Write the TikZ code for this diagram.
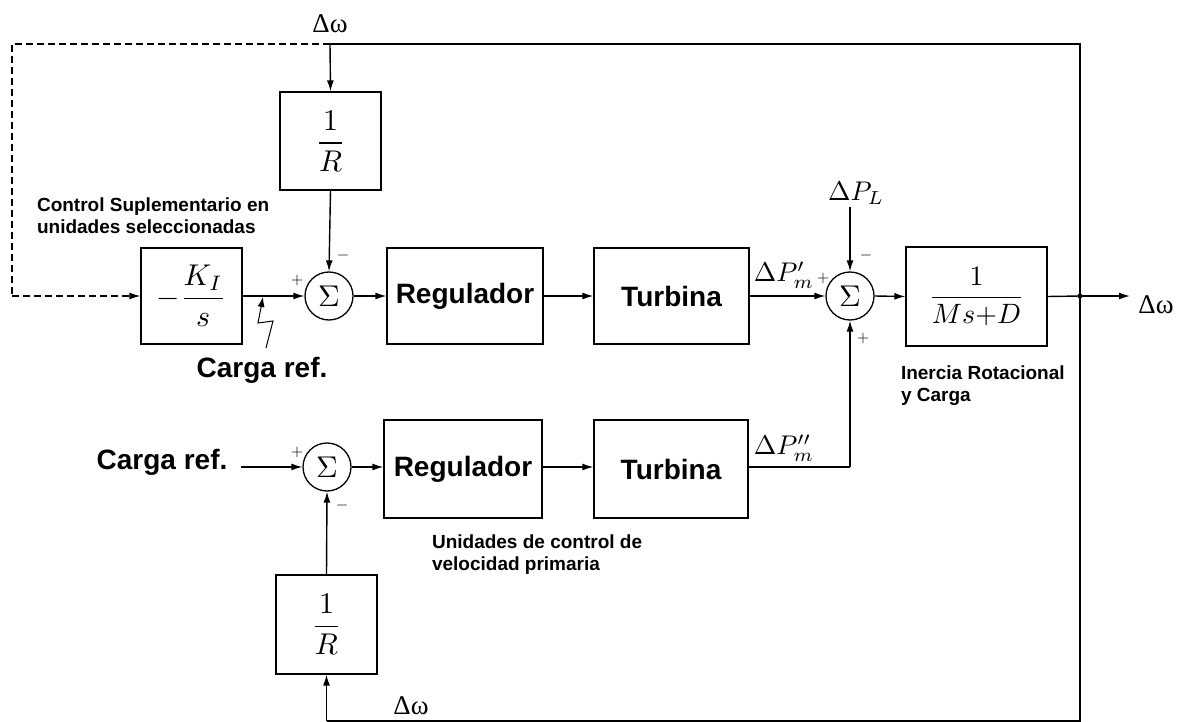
\documentclass[tikz,border=0pt]{standalone}
\usepackage{amsmath}
\usepackage{graphicx}
\usepackage{fontspec}
\setmainfont{Liberation Sans}
\newfontfamily\tms{Liberation Serif}
\usetikzlibrary{arrows.meta}
\newcommand\mscale[2]{\scalebox{#1}{\fontsize{10}{12}\selectfont #2}}
\begin{document}
\begin{tikzpicture}[x=1pt,y=-1pt,
  line width=1.4pt,
  >={Latex[length=11pt,width=7pt]},
  blk/.style={draw,line width=1.3pt,inner sep=0pt},
  sumc/.style={draw,circle,line width=1.3pt,minimum size=48pt,inner sep=0pt},
  big/.style={font=\fontsize{28}{32}\selectfont\bfseries},
  small/.style={font=\fontsize{19}{22}\selectfont\bfseries,align=left},
  sgn/.style={inner sep=0pt},
  dw/.style={font=\fontsize{27}{30}\selectfont\tms,inner sep=0pt}]
\useasboundingbox (0,0) rectangle (1183,722);

% blocks
\node[blk,minimum width=101pt,minimum height=98pt] (R1) at (330.5,141) {\mscale{3}{$\dfrac{1}{R}$}};
\node[blk,minimum width=101pt,minimum height=96pt] (KI) at (191.5,296) {\mscale{3}{$-\dfrac{K_I}{s}$}};
\node[sumc] (S1) at (329,296) {\mscale{3}{$\Sigma$}};
\node[blk,minimum width=156pt,minimum height=96pt,big] (Reg1) at (465,296) {Regulador};
\node[blk,minimum width=155pt,minimum height=96pt,big] (Tur1) at (671.5,296) {Turbina};
\node[sumc] (S2) at (850,296) {\mscale{3}{$\Sigma$}};
\node[blk,minimum width=141pt,minimum height=99pt] (G) at (976.5,296.5) {\mscale{2.8}{$\dfrac{1}{Ms{+}D}$}};
\node[sumc] (S3) at (327,467) {\mscale{3}{$\Sigma$}};
\node[blk,minimum width=158pt,minimum height=98pt,big] (Reg2) at (463,469) {Regulador};
\node[blk,minimum width=154pt,minimum height=98pt,big] (Tur2) at (671,469) {Turbina};
\node[blk,minimum width=101pt,minimum height=99pt] (R2) at (326.5,624.5) {\mscale{3}{$\dfrac{1}{R}$}};

% coordinates
\coordinate (J) at (1080,296);
\coordinate (Out) at (1130,296);
\coordinate (TR) at (1080,44);
\coordinate (TJ) at (330,44);
\coordinate (TL) at (12,44);
\coordinate (DL) at (12,296);
\coordinate (BR) at (1080,721);
\coordinate (BL) at (326.5,721);
\coordinate (PL) at (850,207);
\coordinate (T2) at (850,467);
\coordinate (CR) at (241,467);

% labels
\node[dw] (dwtop) at (330,24) {Δω};
\node[dw] (dwout) at (1156,305) {Δω};
\node[dw] (dwbot) at (411,706) {Δω};
\node[inner sep=0pt] (dPL) at (856,193) {\mscale{2.7}{$\Delta P_L$}};
\node[inner sep=0pt] (dPm1) at (784,275) {\mscale{2.7}{$\Delta P_m'$}};
\node[inner sep=0pt] (dPm2) at (784,448) {\mscale{2.7}{$\Delta P_m''$}};
\node[small,anchor=west] (cs) at (33,216) {Control Suplementario en\\unidades seleccionadas};
\node[big,anchor=west,inner sep=0pt] (cr1) at (196,370) {Carga ref.};
\node[big,anchor=west,inner sep=0pt] (cr2) at (96,462) {Carga ref.};
\node[small,anchor=west] (irc) at (897,386) {Inercia Rotacional\\y Carga};
\node[small,anchor=west] (uc) at (428,555) {Unidades de control de\\velocidad primaria};

% signs
\node[sgn] at (297,280) {\mscale{1.6}{$+$}};
\node[sgn] at (343,255) {\mscale{1.6}{$-$}};
\node[sgn] at (823,278) {\mscale{1.6}{$+$}};
\node[sgn] at (866,255) {\mscale{1.6}{$-$}};
\node[sgn] at (863,338) {\mscale{1.6}{$+$}};
\node[sgn] at (297,452) {\mscale{1.6}{$+$}};
\node[sgn] at (342,505) {\mscale{1.6}{$-$}};

% connectors
\draw (G.east) -- (J);
\draw[->] (J) -- (Out);
\fill (J) circle (2.6pt);
\draw (J) -- (TR) -- (TJ);
\draw[->] (TJ) -- (R1.north);
\draw[dashed,dash pattern=on 7pt off 4pt] (TJ) -- (TL) -- (DL);
\draw[dashed,dash pattern=on 7pt off 4pt,->] (DL) -- (KI.west);
\draw (J) -- (BR) -- (BL);
\draw[->] (BL) -- (R2.south);
\draw[->] (R1.south) -- (S1.north);
\draw[->] (KI.east) -- (S1.west);
\draw[->] (S1.east) -- (Reg1.west);
\draw[->] (Reg1.east) -- (Tur1.west);
\draw[->] (Tur1.east) -- (S2.west);
\draw[->] (S2.east) -- (G.west);
\draw[->] (PL) -- (S2.north);
\draw (Tur2.east |- T2) -- (T2);
\draw[->] (T2) -- (S2.south);
\draw[->] (CR) -- (S3.west);
\draw[->] (S3.east) -- (S3.east -| Reg2.west);
\draw[->] (Reg2.east |- S3.east) -- (Tur2.west |- S3.east);
\draw[->] (R2.north) -- (S3.south);
% lightning
\draw[line width=1pt,-{Latex[length=10pt,width=7pt]}] (266,348) -- (273,321) -- (258,323) -- (263,297);
\end{tikzpicture}
\end{document}
